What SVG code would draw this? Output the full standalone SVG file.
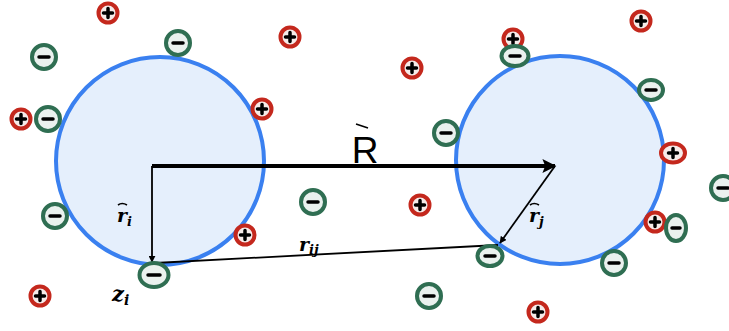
<svg xmlns="http://www.w3.org/2000/svg" xmlns:xlink="http://www.w3.org/1999/xlink" width="729" height="331" viewBox="0 0 729 331">
<style>
.sphere{fill:#e5effc;stroke:#3a80f0;stroke-width:4}
.pr{fill:#f6ebe9;stroke:#c4281d;stroke-width:4}
.mr{fill:#eaf1ee;stroke:#2f6e52;stroke-width:4}
.sign{stroke:#000;stroke-width:3.5;stroke-linecap:round;fill:none}
.conn{stroke:#000;fill:none}
.lbl{font-family:"DejaVu Serif",serif;font-style:italic;font-weight:bold;fill:#000}
</style>
<defs>
<g id="plus"><circle r="9.5" class="pr"/><path class="sign" d="M-4.5 0H4.5M0 -4.5V4.5"/></g>
<g id="minus"><circle r="12" class="mr"/><path class="sign" d="M-5 0H5"/></g>
<marker id="ah" viewBox="0 0 10 10" refX="9" refY="5" markerWidth="7" markerHeight="7" orient="auto" markerUnits="userSpaceOnUse"><path d="M0 0L10 5L0 10z" fill="#000"/></marker>
<marker id="ahb" viewBox="0 0 10 10" refX="9" refY="5" markerWidth="16" markerHeight="14" orient="auto" markerUnits="userSpaceOnUse"><path d="M0 0L10 5L0 10L2 5z" fill="#000"/></marker>
</defs>
<g id="sphere-left"><circle class="sphere" cx="160" cy="161" r="104"/></g>
<g id="sphere-right"><circle class="sphere" cx="560" cy="160" r="104"/></g>
<g id="connectors">
<line class="conn" x1="152" y1="166" x2="555" y2="166" stroke-width="4" marker-end="url(#ahb)"/>
<line class="conn" x1="152" y1="166" x2="152" y2="262" stroke-width="1.8" marker-end="url(#ah)"/>
<line class="conn" x1="155" y1="263" x2="498" y2="245" stroke-width="1.8"/>
<line class="conn" x1="555" y1="166" x2="500" y2="243" stroke-width="1.8" marker-end="url(#ah)"/>
</g>
<g id="label-R"><text x="365" y="163" font-family="Liberation Sans,Arial,sans-serif" font-size="37" text-anchor="middle">R</text><path d="M356 124L368 128" stroke="#000" stroke-width="1.5" fill="none"/></g>
<g id="label-ri"><text class="lbl" x="117" y="222" font-size="19">r<tspan font-size="13" dy="4">i</tspan></text><path d="M118 205q4 -3 9 0" stroke="#000" stroke-width="1.6" fill="none"/></g>
<g id="label-rij"><text class="lbl" x="299" y="251" font-size="19">r<tspan font-size="13" dy="3">ij</tspan></text></g>
<g id="label-rj"><text class="lbl" x="529" y="222" font-size="19">r<tspan font-size="13" dy="4">j</tspan></text><path d="M530 205q4 -3 9 0" stroke="#000" stroke-width="1.6" fill="none"/></g>
<g id="label-zi"><text class="lbl" x="112" y="301" font-size="21">z<tspan font-size="14" dy="4">i</tspan></text></g>
<g id="ions-positive">
<use id="p1" xlink:href="#plus" x="108" y="13"/>
<use id="p2" xlink:href="#plus" x="290" y="37"/>
<use id="p3" xlink:href="#plus" x="412" y="68"/>
<use id="p4" xlink:href="#plus" x="513" y="39"/>
<use id="p5" xlink:href="#plus" x="641" y="21"/>
<use id="p6" xlink:href="#plus" x="262" y="109"/>
<use id="p7" xlink:href="#plus" x="21" y="119"/>
<g id="p8"><ellipse cx="673" cy="153" rx="12" ry="9.5" class="pr"/><path class="sign" d="M668.5 153H677.5M673 148.5V157.5"/></g>
<use id="p9" xlink:href="#plus" x="655" y="222"/>
<use id="p10" xlink:href="#plus" x="420" y="205"/>
<use id="p11" xlink:href="#plus" x="245" y="235"/>
<use id="p12" xlink:href="#plus" x="40" y="296"/>
<use id="p13" xlink:href="#plus" x="538" y="312"/>
</g>
<g id="ions-negative">
<use id="m1" xlink:href="#minus" x="44" y="57"/>
<use id="m2" xlink:href="#minus" x="178" y="43"/>
<use id="m3" xlink:href="#minus" x="48" y="119"/>
<g id="m4"><ellipse cx="515" cy="56" rx="13.5" ry="10" class="mr"/><path class="sign" d="M510 56H520"/></g>
<g id="m5"><ellipse cx="651" cy="90" rx="12" ry="10" class="mr"/><path class="sign" d="M646 90H656"/></g>
<use id="m6" xlink:href="#minus" x="446" y="133"/>
<use id="m7" xlink:href="#minus" x="723" y="188"/>
<use id="m8" xlink:href="#minus" x="55" y="216"/>
<use id="m9" xlink:href="#minus" x="313" y="202"/>
<g id="m10"><ellipse cx="676" cy="228" rx="10" ry="13" class="mr"/><path class="sign" d="M672 228H680"/></g>
<use id="m11" xlink:href="#minus" x="614" y="263"/>
<g id="m12"><ellipse cx="490" cy="256" rx="12.5" ry="10" class="mr"/><path class="sign" d="M485 256H495"/></g>
<g id="m13"><ellipse cx="154" cy="275" rx="14.5" ry="12" class="mr"/><path class="sign" d="M148 275H160"/></g>
<use id="m14" xlink:href="#minus" x="429" y="296"/>
</g>
</svg>
